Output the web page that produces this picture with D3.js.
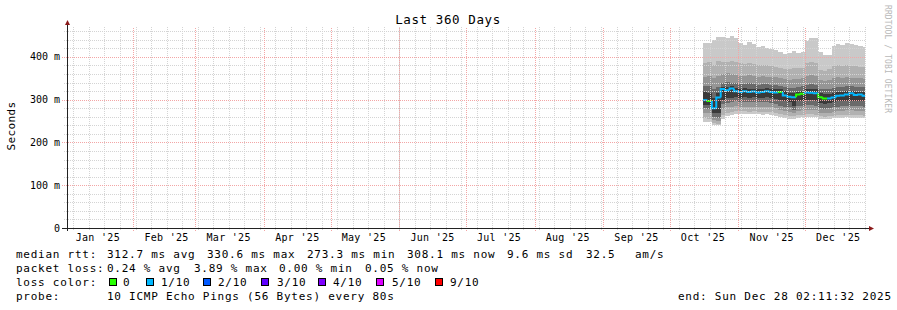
<!DOCTYPE html>
<html>
<head>
<meta charset="utf-8">
<script src="https://cdn.jsdelivr.net/npm/d3@7"></script>
<style>
  body { margin: 0; background: #fff; }
  svg { display: block; }
  text { font-family: "DejaVu Sans Mono", monospace; fill: #000; }
</style>
</head>
<body>
<svg id="chart" width="897" height="310"></svg>
<script>
// one sample every 2 days (values in ms)
var days = ["2025-10-16","2025-10-18","2025-10-20","2025-10-22","2025-10-24","2025-10-26","2025-10-28","2025-10-30",
  "2025-11-01","2025-11-03","2025-11-05","2025-11-07","2025-11-09","2025-11-11","2025-11-13","2025-11-15",
  "2025-11-17","2025-11-19","2025-11-21","2025-11-23","2025-11-25","2025-11-27","2025-11-29",
  "2025-12-01","2025-12-03","2025-12-05","2025-12-07","2025-12-09","2025-12-11","2025-12-13","2025-12-15",
  "2025-12-17","2025-12-19","2025-12-21","2025-12-23","2025-12-25","2025-12-27"];

var median = [299,297,280,305,325,322,326,320,318,320,318,319,317,318,320,318,317,318,310,307,306,312,314,317,316,315,306,303,303,305,309,310,312,315,311,312,309];
// loss bucket per sample (index into lossColors)
var lossIdx = [1,0,1,1,1,1,1,1,1,1,1,1,1,1,1,1,1,0,1,1,1,0,0,1,1,1,0,0,1,1,1,1,1,1,1,1,1];

// sorted pings, p1 = fastest ... p10 = slowest
var p1  = [249,248,241,240,255,262,265,266,267,266,266,267,266,265,266,265,262,260,258,256,256,258,259,260,260,259,256,255,256,257,258,258,259,258,258,258,257];
var p2  = [257,256,246,244,265,270,272,274,274,273,272,273,272,272,272,271,270,266,264,262,261,264,265,267,267,265,262,260,262,263,264,265,265,265,264,264,263];
var p3  = [269,268,252,250,278,282,283,285,284,284,283,284,283,282,283,282,280,275,274,272,268,274,275,277,277,275,270,268,270,272,273,274,275,275,274,274,273];
var p4  = [281,279,260,258,290,293,295,296,294,295,294,295,294,294,295,293,290,285,284,283,275,285,286,288,288,286,280,278,280,282,284,285,286,286,285,285,284];
var p5  = [288,287,268,270,300,305,305,306,305,306,305,306,305,305,306,305,302,300,296,294,285,296,298,300,300,298,292,290,292,294,296,297,298,298,297,297,296];
var p6  = [318,315,305,315,330,330,332,328,326,327,326,326,325,326,327,326,325,325,320,316,315,318,320,325,325,324,316,314,314,316,318,319,320,321,319,319,318];
var p7  = [331,333,325,330,340,342,340,338,336,336,338,336,335,336,336,335,334,333,330,328,328,330,331,335,336,335,326,325,326,328,330,330,331,331,330,330,329];
var p8  = [354,356,350,355,360,362,360,358,356,355,357,355,354,355,354,353,352,350,348,347,348,349,350,355,357,355,345,344,346,350,352,350,352,351,350,350,349];
var p9  = [386,388,380,390,388,388,390,388,385,384,386,383,380,382,380,378,377,375,372,372,374,374,375,385,388,386,370,368,372,378,380,378,380,379,378,377,376];
var p10 = [433,433,440,447,447,445,448,445,432,428,435,430,424,425,420,418,416,412,408,410,414,410,412,438,445,444,412,405,405,425,430,428,432,430,428,426,424];

var yTicks = [0, 100, 200, 300, 400];
var yTickLabels = ["0", "100 m", "200 m", "300 m", "400 m"];

var lossColors = ["#26ff00", "#00b8ff", "#0059ff", "#5e00ff", "#7e00ff", "#dd00ff", "#ff0000"];
var lossLabels = ["0", "1/10", "2/10", "3/10", "4/10", "5/10", "9/10"];
var smokeColors = ["#c9c9c9", "#b1b1b1", "#959595", "#6a6a6a", "#3a3a3a"];

var svg = d3.select("#chart");
svg.append("rect").attr("width", 897).attr("height", 310).attr("fill", "#fff");

var endTime = new Date(Date.UTC(2025, 11, 28, 2, 11, 32));
var startTime = new Date(endTime.getTime() - 360 * 864e5);

var x = d3.scaleUtc().domain([startTime, endTime]).range([67, 865]);
var y = d3.scaleLinear().domain([0, 470]).range([228, 27]);

var parse = d3.utcParse("%Y-%m-%d");
var pings = [p1, p2, p3, p4, p5, p6, p7, p8, p9, p10];

var rows = days.map(function(d, i) {
    return {t: parse(d), i: i};
});
// extra row so the last step runs to the end of the graph
var rowsExt = rows.concat([{t: endTime, i: rows.length - 1}]);

// smoke: area between ping i and ping (11-i), outside first
var g = svg.append("g");
for (var k = 0; k < 5; k++) {
    var lo = pings[k], hi = pings[9 - k];
    var area = d3.area()
        .curve(d3.curveStepAfter)
        .x(function(d){ return x(d.t); })
        .y0(function(d){ return y(lo[d.i]); })
        .y1(function(d){ return y(hi[d.i]); });
    g.append("path").datum(rowsExt)
        .attr("d", area)
        .attr("fill", smokeColors[k])
        .attr("shape-rendering", "crispEdges");
}

// median, coloured by loss
rows.forEach(function(d, i) {
    var x0 = x(d.t), x1 = x(rowsExt[i + 1].t);
    var yPrev = y(median[i > 0 ? i - 1 : 0]), yCur = y(median[i]);
    g.append("path")
        .attr("d", "M" + x0 + "," + yPrev + "V" + yCur + "H" + x1)
        .attr("fill", "none")
        .attr("stroke", lossColors[lossIdx[i]])
        .attr("stroke-width", 2);
});

// grid (rrdtool draws it over the data)
var grid = svg.append("g").attr("shape-rendering", "crispEdges");
var minorColor = "#d4d4d4", majorColor = "#f3a6a6";
var minorY = d3.range(20, 470, 20).filter(function(v){ return v % 100 != 0; });
grid.selectAll(".hmin").data(minorY).enter().append("line")
    .attr("x1", 64).attr("x2", 866)
    .attr("y1", function(v){ return Math.round(y(v)) + 0.5; })
    .attr("y2", function(v){ return Math.round(y(v)) + 0.5; })
    .attr("stroke", minorColor).attr("stroke-dasharray", "1,1");

var weeks = d3.utcSunday.range(startTime, endTime);
grid.selectAll(".vmin").data(weeks).enter().append("line")
    .attr("y1", 230).attr("y2", 27)
    .attr("x1", function(d){ return Math.round(x(d)) + 0.5; })
    .attr("x2", function(d){ return Math.round(x(d)) + 0.5; })
    .attr("stroke", minorColor).attr("stroke-dasharray", "1,1");

grid.selectAll(".hmaj").data(yTicks.slice(1)).enter().append("line")
    .attr("x1", 62).attr("x2", 866)
    .attr("y1", function(v){ return Math.round(y(v)) + 0.5; })
    .attr("y2", function(v){ return Math.round(y(v)) + 0.5; })
    .attr("stroke", majorColor).attr("stroke-dasharray", "1,1");

var months = d3.utcMonth.range(startTime, endTime);
grid.selectAll(".vmaj").data(months).enter().append("line")
    .attr("y1", 231).attr("y2", 27)
    .attr("x1", function(d){ return Math.round(x(d)) + 0.5; })
    .attr("x2", function(d){ return Math.round(x(d)) + 0.5; })
    .attr("stroke", majorColor).attr("stroke-dasharray", "1,1");

// axes
grid.append("line").attr("x1", 62).attr("x2", 869).attr("y1", 228.5).attr("y2", 228.5).attr("stroke", "#222");
grid.append("line").attr("x1", 67.5).attr("x2", 67.5).attr("y1", 231).attr("y2", 23).attr("stroke", "#222");
svg.append("path").attr("d", "M65,25 L67.5,20 L70,25 Z").attr("fill", "#8b1a1a");
svg.append("path").attr("d", "M869,226 L874,228.5 L869,231 Z").attr("fill", "#8b1a1a");

// y labels
svg.selectAll(".ylab").data(yTicks).enter().append("text")
    .attr("x", 60).attr("y", function(v){ return y(v) + 3.5; })
    .attr("text-anchor", "end").attr("font-size", 10)
    .text(function(v, i){ return yTickLabels[i]; });

// month labels, centred half a month in
var labelMonths = d3.utcMonth.range(new Date(Date.UTC(2025, 0, 1)), new Date(Date.UTC(2025, 11, 2)));
var fmt = d3.utcFormat("%b '%y");
svg.selectAll(".xlab").data(labelMonths).enter().append("text")
    .attr("x", function(d){ return x(d3.utcDay.offset(d, 15)); })
    .attr("y", 241).attr("text-anchor", "middle").attr("font-size", 10)
    .attr("letter-spacing", 0.3)
    .text(function(d){ return fmt(d); });

// titles
svg.append("text").attr("x", 448).attr("y", 24).attr("text-anchor", "middle")
    .attr("font-size", 12.5).attr("letter-spacing", 0.6).text("Last 360 Days");
svg.append("text").attr("transform", "translate(15,126) rotate(-90)")
    .attr("text-anchor", "middle").attr("font-size", 11).attr("letter-spacing", 0.4).text("Seconds");
svg.append("text").attr("transform", "translate(885,5) rotate(90)")
    .attr("font-size", 8).attr("letter-spacing", 0.1).style("fill", "#b8b8b8").text("RRDTOOL / TOBI OETIKER");

// legend
var legend = [
    [16, 258, "median rtt:"], [107, 258, "312.7 ms avg"], [207, 258, "330.6 ms max"],
    [307, 258, "273.3 ms min"], [407, 258, "308.1 ms now"], [507, 258, "9.6 ms sd"],
    [586, 258, "32.5"], [635, 258, "am/s"],
    [16, 272, "packet loss:"], [107, 272, "0.24 % avg"], [194, 272, "3.89 % max"],
    [279, 272, "0.00 % min"], [365, 272, "0.05 % now"],
    [16, 286, "loss color:"],
    [16, 300, "probe:"], [107, 300, "10 ICMP Echo Pings (56 Bytes) every 80s"],
    [678, 300, "end: Sun Dec 28 02:11:32 2025"]
];
svg.selectAll(".leg").data(legend).enter().append("text")
    .attr("x", function(d){ return d[0]; }).attr("y", function(d){ return d[1]; })
    .attr("font-size", 11).attr("letter-spacing", 0.75)
    .text(function(d){ return d[2]; });

var boxX = [109, 146, 203, 261, 318, 376, 435];
var boxLabelX = [123, 161, 218, 277, 333, 392, 450];
lossColors.forEach(function(c, i) {
    svg.append("rect").attr("x", boxX[i] + 0.5).attr("y", 278.5).attr("width", 7).attr("height", 7)
        .attr("fill", c).attr("stroke", "#000");
    svg.append("text").attr("x", boxLabelX[i]).attr("y", 286)
        .attr("font-size", 11).attr("letter-spacing", 0.75).text(lossLabels[i]);
});
</script>
</body>
</html>
